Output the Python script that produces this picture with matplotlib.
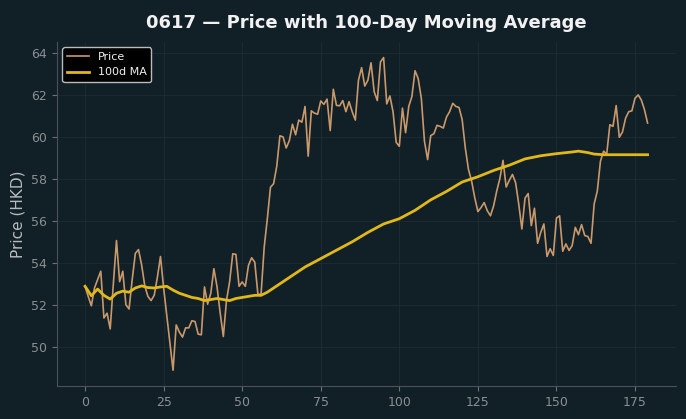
import numpy as np
import matplotlib
matplotlib.use("Agg")
import matplotlib.pyplot as plt

# Daily closing price (day index 0..179)
price = [
    52.88, 52.40, 51.95, 52.80, 53.20, 53.60, 51.37, 51.60, 50.85, 53.00,
    55.06, 53.10, 53.60, 52.00, 51.80, 53.20, 54.45, 54.63, 53.90, 52.90,
    52.40, 52.20, 52.45, 53.30, 54.30, 52.80, 51.50, 50.20, 48.88, 51.04,
    50.70, 50.46, 50.90, 50.90, 51.24, 51.20, 50.60, 50.57, 52.85, 52.03,
    52.54, 53.72, 52.85, 51.60, 50.49, 52.20, 53.10, 54.43, 54.40, 52.88,
    53.09, 52.88, 53.88, 54.24, 54.03, 52.50, 52.50, 54.74, 56.10, 57.60,
    57.77, 58.60, 60.05, 60.00, 59.47, 59.82, 60.60, 60.10, 60.80, 60.70,
    61.45, 59.08, 61.24, 61.13, 61.08, 61.71, 61.55, 61.80, 60.30, 62.27,
    61.50, 61.48, 61.73, 61.20, 61.68, 61.20, 60.80, 62.70, 63.30, 62.42,
    62.70, 63.53, 62.15, 61.73, 63.57, 63.78, 61.57, 61.95, 61.20, 59.74,
    59.55, 61.37, 60.20, 61.45, 61.92, 63.15, 62.78, 61.84, 59.79, 58.92,
    60.06, 60.15, 60.55, 60.50, 60.42, 60.94, 61.20, 61.60, 61.45, 61.40,
    60.82, 59.47, 58.45, 57.90, 57.10, 56.44, 56.63, 56.87, 56.48, 56.24,
    56.71, 57.42, 58.02, 58.88, 57.61, 57.93, 58.21, 57.82, 56.80, 55.61,
    57.08, 57.30, 55.77, 56.60, 54.93, 55.45, 55.85, 54.30, 54.67, 54.35,
    56.13, 56.24, 54.55, 54.90, 54.59, 54.82, 55.69, 55.34, 55.82, 55.30,
    55.25, 54.93, 56.80, 57.42, 58.84, 59.32, 59.19, 60.58, 60.50, 61.49,
    59.98, 60.23, 60.89, 61.20, 61.24, 61.84, 62.00, 61.76, 61.30, 60.66,
]
days = np.arange(len(price))

# 100-day moving average, sampled off the chart
ma_days = [0, 2, 4, 6, 8, 10, 12, 14, 16, 18, 20, 22, 24, 26, 28, 30, 32, 34,
           36, 38, 40, 42, 44, 46, 48, 50, 52, 54, 56, 58, 60, 65, 70, 75, 80,
           85, 90, 95, 100, 105, 110, 115, 120, 125, 130, 135, 140, 145, 150,
           155, 157, 160, 162, 165, 170, 175, 179]
ma_values = [52.88, 52.43, 52.75, 52.45, 52.27, 52.55, 52.65, 52.60, 52.80,
             52.90, 52.82, 52.80, 52.85, 52.88, 52.70, 52.55, 52.45, 52.35,
             52.30, 52.20, 52.25, 52.30, 52.25, 52.20, 52.30, 52.35, 52.40,
             52.45, 52.45, 52.60, 52.80, 53.30, 53.80, 54.20, 54.60, 55.00,
             55.45, 55.85, 56.10, 56.50, 57.00, 57.40, 57.85, 58.10, 58.40,
             58.65, 58.95, 59.10, 59.20, 59.28, 59.32, 59.25, 59.18, 59.15,
             59.15, 59.15, 59.15]

bg = "#111f27"
fig = plt.figure(figsize=(6.86, 4.19), dpi=100, facecolor=bg)
ax = fig.add_axes([0.083, 0.079, 0.902, 0.821], facecolor=bg)

ax.plot(days, price, color="#c9996b", linewidth=1.2, label="Price")
ax.plot(ma_days, ma_values, color="#e0b81a", linewidth=2.0, label="100d MA")

ax.grid(True, color="#1d2d35", linewidth=0.6)
for side in ["top", "right"]:
    ax.spines[side].set_visible(False)
for side in ["left", "bottom"]:
    ax.spines[side].set_color("#4a5257")
ax.tick_params(colors="#8a8f92", labelsize=9)
ax.tick_params(axis="both", color="#6a7074")

ax.set_ylabel("Price (HKD)", color="#b8bcbf", fontsize=11)
ax.set_title("0617 — Price with 100-Day Moving Average", color="#f2f2f2",
             fontsize=13, fontweight="bold", pad=10)

leg = ax.legend(loc="upper left", fontsize=8, facecolor="#000000",
                edgecolor="#bbbbbb", framealpha=1.0)
for t in leg.get_texts():
    t.set_color("#eeeeee")

fig.savefig("out.png", dpi=100, facecolor=bg)
